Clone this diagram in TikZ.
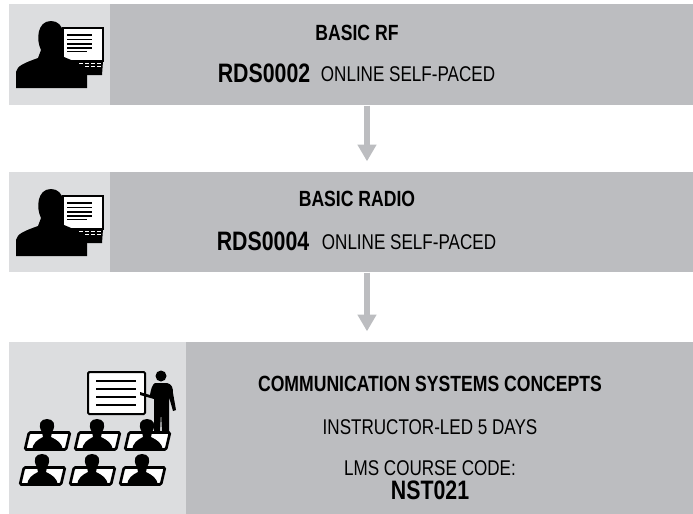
\documentclass[tikz,border=0pt]{standalone}
\usepackage{fontspec}
\setmainfont{Liberation Sans}[FakeStretch=0.8]
\usetikzlibrary{arrows.meta,positioning}
\definecolor{panellight}{HTML}{DCDDDF}
\definecolor{paneldark}{HTML}{BCBDC0}

\begin{document}
\begin{tikzpicture}[x=0.75pt,y=-0.75pt]
    \tikzset{Panel/.style={%
            shape=rectangle,%
            draw=none,%
            anchor=north west,%
            inner sep=0pt,%
        },
        Course/.style={font=\bfseries\fontsize{16.5pt}{18pt}\selectfont, inner sep=0pt},
        Code/.style={font=\bfseries\fontsize{20pt}{22pt}\selectfont, inner sep=0pt},
        Plain/.style={font=\fontsize{16pt}{18pt}\selectfont, inner sep=0pt},
        Flow/.style={line width=4.5pt, draw=paneldark, -{Triangle[width=13.5pt,length=12.5pt]}, shorten >=8pt},
        pics/learner/.style={code={
            % head and shoulders, laptop behind
            \fill[white,draw=black,line width=1.1pt] (63,28) rectangle (103,61);
            \fill (70,61) -- (103,61) -- (102,75) -- (70,75) -- cycle;
            \foreach \yy in {35,39.5,44,48}
                \fill (67,\yy-0.8) rectangle (92,\yy+0.8);
            \fill (67,50.5) rectangle (87,52);
            \foreach \xx in {79,85,91,97}
                \fill[white] (\xx,62.5) rectangle (\xx+3.5,63.8);
            \foreach \xx in {85,91,97}
                \fill[white] (\xx,65.5) rectangle (\xx+3.5,66.8);
            \fill (16,88) -- (16,72) .. controls (17,66) and (24,63) .. (38,58)
                -- (41,50) .. controls (36,40) and (37,21) .. (51,21)
                .. controls (65,21) and (66,40) .. (62,50) -- (64,57)
                .. controls (76,62) and (86,66) .. (87,72) -- (87,88) -- cycle;
        }},
        pics/student/.style={code={
            % laptop with a seated figure
            \draw[fill=white,line width=2pt,rounded corners=1pt] (-18,-8.5) -- (23,-8.5) -- (19,8.5) -- (-22,8.5) -- cycle;
            \fill (-15,9) .. controls (-14,2) and (-10,-1) .. (-4,-4) -- (-5,-9)
                .. controls (-10,-17) and (-6,-22) .. (0,-22) .. controls (6,-22) and (10,-17) .. (5,-9)
                -- (4,-4) .. controls (10,-1) and (15,2) .. (16,9) -- cycle;
        }},
    }

    \useasboundingbox (0,0) rectangle (693,514);

    % first course
    \node[Panel, fill=panellight, minimum width=101*0.75pt, minimum height=101*0.75pt] (rflight) at (9,4) {};
    \node[Panel, fill=paneldark, minimum width=583*0.75pt, minimum height=101*0.75pt] (rfdark) at (110,4) {};
    \node[Course] (rftitle) at (357,33) {BASIC RF};
    \node[Code] (rfcode) at (264,73) {RDS0002};
    \node[Plain] (rfmode) at (408,74) {ONLINE SELF-PACED};

    % second course
    \node[Panel, fill=panellight, minimum width=101*0.75pt, minimum height=100*0.75pt] (radiolight) at (9,172) {};
    \node[Panel, fill=paneldark, minimum width=583*0.75pt, minimum height=100*0.75pt] (radiodark) at (110,172) {};
    \node[Course] (radiotitle) at (357,199) {BASIC RADIO};
    \node[Code] (radiocode) at (263,241) {RDS0004};
    \node[Plain] (radiomode) at (409,242) {ONLINE SELF-PACED};

    % third course
    \node[Panel, fill=panellight, minimum width=177*0.75pt, minimum height=172*0.75pt] (commlight) at (9,342) {};
    \node[Panel, fill=paneldark, minimum width=507*0.75pt, minimum height=172*0.75pt] (commdark) at (186,342) {};
    \node[Course] (commtitle) at (430,384) {COMMUNICATION SYSTEMS CONCEPTS};
    \node[Plain] (commmode) at (430,427) {INSTRUCTOR-LED 5 DAYS};
    \node[Plain] (commlabel) at (430,468) {LMS COURSE CODE:};
    \node[Code] (commcode) at (430,490) {NST021};

    \draw[Flow] (rfdark.south -| 367,0) -- (radiodark.north -| 367,0);
    \draw[Flow] (radiodark.south -| 367,0) -- (commdark.north -| 367,0);

    % icons
    \pic at (0,0) {learner};
    \pic at (0,168) {learner};

    \draw[fill=white,line width=1.5pt,rounded corners=1pt] (88,372) rectangle (145,414);
    \foreach \yy in {381,389,397,405}
        \fill (96,\yy-1.4) rectangle (136,\yy+1.4);
    \fill (161,376) circle (5.5);
    \fill (155,383) -- (167,383) .. controls (172,384) and (173,388) .. (173,393)
        -- (176,410) -- (173,411) -- (169,397) -- (169,432) -- (162,432) -- (161,412)
        -- (160,432) -- (154,432) -- (154,399) -- (140,395) -- (140,392) -- (150,395)
        .. controls (151,389) and (152,385) .. (155,383) -- cycle;

    \foreach \xx in {47,97,147}
        \pic at (\xx,441) {student};
    \foreach \xx in {42,92,142}
        \pic at (\xx,476) {student};
\end{tikzpicture}
\end{document}
